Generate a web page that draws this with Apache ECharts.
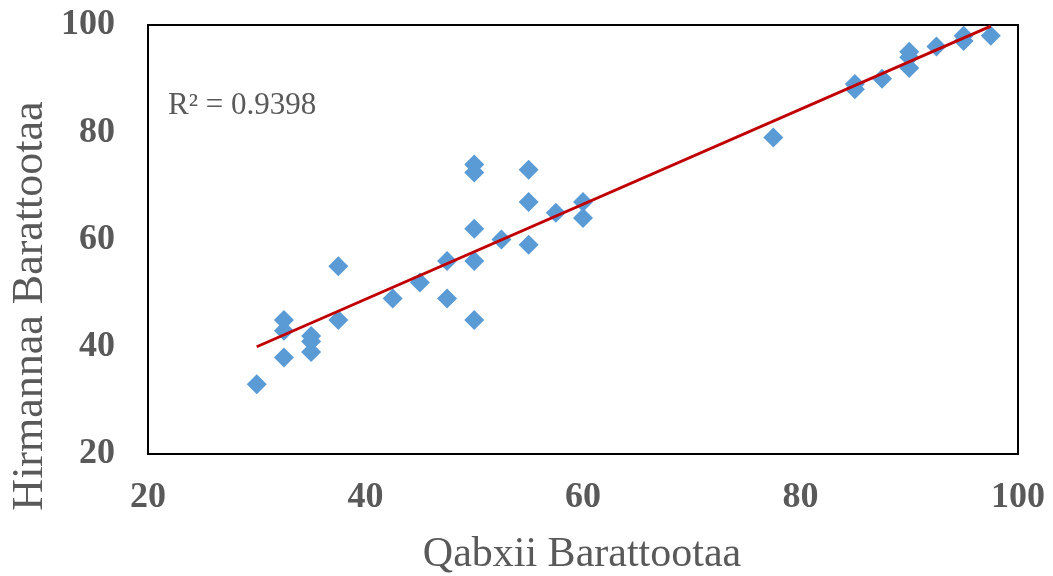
<!DOCTYPE html>
<html>
<head>
<meta charset="utf-8">
<script src="https://cdn.jsdelivr.net/npm/echarts@6/dist/echarts.min.js"></script>
<style>html,body{margin:0;padding:0;background:#fff}#c{width:1053px;height:576px}</style>
</head>
<body>
<div id="c"></div>
<script>
const xValues = [30, 32.5, 32.5, 32.5, 35, 35, 35, 37.5, 37.5, 42.5, 45, 47.5, 47.5, 50, 50, 50, 50, 50, 52.5, 55, 55, 55, 57.5, 60, 60, 77.5, 85, 85, 87.5, 90, 90, 90, 92.5, 95, 95, 97.5];
const yValues = [33, 38, 43, 45, 39, 41, 42, 45, 55, 49, 52, 56, 49, 45, 56, 62, 72.5, 74, 60, 59, 67, 73, 65, 67, 64, 79, 89, 88, 90, 95, 94, 92, 96, 98, 97, 98];
const trendX = [30, 97.5];
const trendY = [40, 99.8];
const xTicks = [20, 40, 60, 80, 100];
const yTicks = [20, 40, 60, 80, 100];
const r2Label = 'R² = 0.9398';
const xTitle = 'Qabxii Barattootaa';
const yTitle = 'Hirmannaa Barattootaa';

const pts = xValues.map((x, i) => [x, yValues[i]]);
const trend = trendX.map((x, i) => [x, trendY[i]]);
const serif = '"Liberation Serif", "Times New Roman", serif';

const chart = echarts.init(document.getElementById('c'), null, {renderer: 'canvas'});
chart.setOption({
  backgroundColor: '#fff',
  animation: false,
  grid: {left: 148, top: 25, width: 870, height: 429, show: true, borderColor: '#000', borderWidth: 2, backgroundColor: 'transparent'},
  xAxis: {
    type: 'value', min: xTicks[0], max: xTicks[xTicks.length - 1], interval: 20,
    axisLine: {show: false}, axisTick: {show: false}, splitLine: {show: false},
    axisLabel: {fontFamily: serif, fontWeight: 'bold', fontSize: 36, color: '#595959', margin: 26}
  },
  yAxis: {
    type: 'value', min: yTicks[0], max: yTicks[yTicks.length - 1], interval: 20,
    axisLine: {show: false}, axisTick: {show: false}, splitLine: {show: false},
    axisLabel: {fontFamily: serif, fontWeight: 'bold', fontSize: 36, color: '#595959', margin: 33}
  },
  graphic: [
    {type: 'text', left: 168, top: 90, style: {text: r2Label, font: '31px ' + serif, fill: '#595959'}},
    {type: 'text', x: 582, y: 555, style: {text: xTitle, font: '42px ' + serif, fill: '#595959', align: 'center', verticalAlign: 'middle'}},
    {type: 'text', x: 30, y: 306, rotation: Math.PI / 2, style: {text: yTitle, font: '44px ' + serif, fill: '#595959', align: 'center', verticalAlign: 'middle'}}
  ],
  series: [
    {type: 'scatter', data: pts, symbol: 'diamond', symbolSize: 20, itemStyle: {color: '#5B9BD5', opacity: 1}, z: 2},
    {type: 'line', data: trend, symbol: 'none', lineStyle: {color: '#C00000', width: 3}, z: 3}
  ]
});
</script>
</body>
</html>
